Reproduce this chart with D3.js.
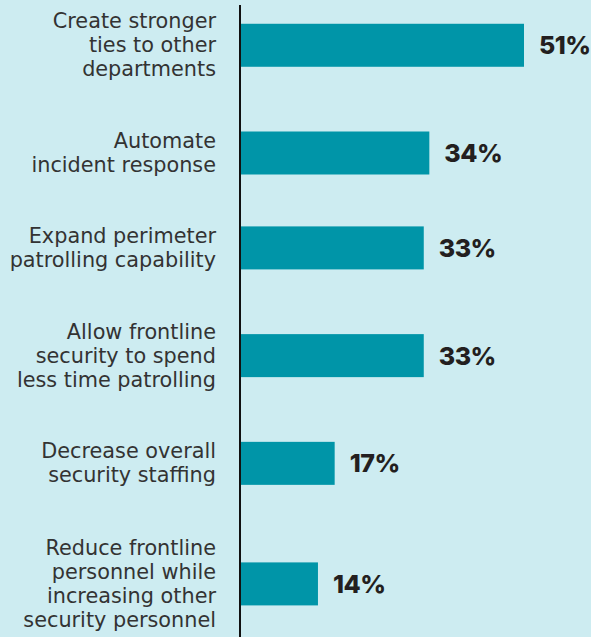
<!DOCTYPE html>
<html>
<head>
<meta charset="utf-8">
<script src="https://cdn.jsdelivr.net/npm/d3@7"></script>
<style>
  html, body { margin: 0; padding: 0; background: #cdecf1; }
  svg { display: block; }
</style>
</head>
<body>
<svg id="chart" width="591" height="637"></svg>
<script>
// Survey responses: share choosing each priority
const categories = [
  "Create stronger\nties to other\ndepartments",
  "Automate\nincident response",
  "Expand perimeter\npatrolling capability",
  "Allow frontline\nsecurity to spend\nless time patrolling",
  "Decrease overall\nsecurity staffing",
  "Reduce frontline\npersonnel while\nincreasing other\nsecurity personnel"
];
const values = [51, 34, 33, 33, 17, 14];
const valueLabels = ["51%", "34%", "33%", "33%", "17%", "14%"];

const W = 591, H = 637;
const svg = d3.select("#chart");

svg.append("rect").attr("width", W).attr("height", H).attr("fill", "#cdecf1");

// Each row takes room in proportion to its label's line count plus a fixed gap
const rowGap = 1.7;
const lines = categories.map(c => c.split("\n"));
const units = lines.map(l => l.length + rowGap);
const starts = d3.cumsum([0, ...units]);
const totalUnits = starts[starts.length - 1];
const centerUnit = units.map((u, i) => starts[i] + u / 2);

const y = d3.scaleLinear().domain([0, totalUnits]).range([-15, 657]);
const x = d3.scaleLinear().domain([0, d3.max(values)]).range([240, 524]);

const barH = 43;
const lineH = 24;

const rows = svg.append("g").selectAll("g")
  .data(categories.map((c, i) => ({ lines: lines[i], value: values[i], label: valueLabels[i], cy: y(centerUnit[i]) })))
  .join("g");

rows.append("rect")
  .attr("x", x(0))
  .attr("y", d => d.cy - barH / 2)
  .attr("width", d => x(d.value) - x(0))
  .attr("height", barH)
  .attr("fill", "#0095a8");

rows.append("text")
  .attr("x", d => x(d.value) + 15)
  .attr("y", d => d.cy)
  .attr("dy", "0.36em")
  .attr("font-family", "Inter, 'Open Sans', sans-serif")
  .attr("font-weight", 800)
  .attr("font-size", 25)
  .attr("letter-spacing", "-0.5px")
  .attr("fill", "#231f20")
  .text(d => d.label);

const labelText = rows.append("text")
  .attr("text-anchor", "end")
  .attr("font-family", "'DejaVu Sans', sans-serif")
  .attr("font-weight", 400)
  .attr("font-size", 20.8)
  .attr("fill", "#333333");

labelText.selectAll("tspan")
  .data(d => d.lines.map((t, j) => ({ t, j, n: d.lines.length, cy: d.cy })))
  .join("tspan")
  .attr("x", 216)
  .attr("y", d => d.cy - (d.n - 1) * lineH / 2 + d.j * lineH + 7)
  .text(d => d.t);

// Vertical baseline axis
svg.append("line")
  .attr("x1", x(0)).attr("x2", x(0))
  .attr("y1", 5).attr("y2", H)
  .attr("stroke", "#111")
  .attr("stroke-width", 2);
</script>
</body>
</html>
